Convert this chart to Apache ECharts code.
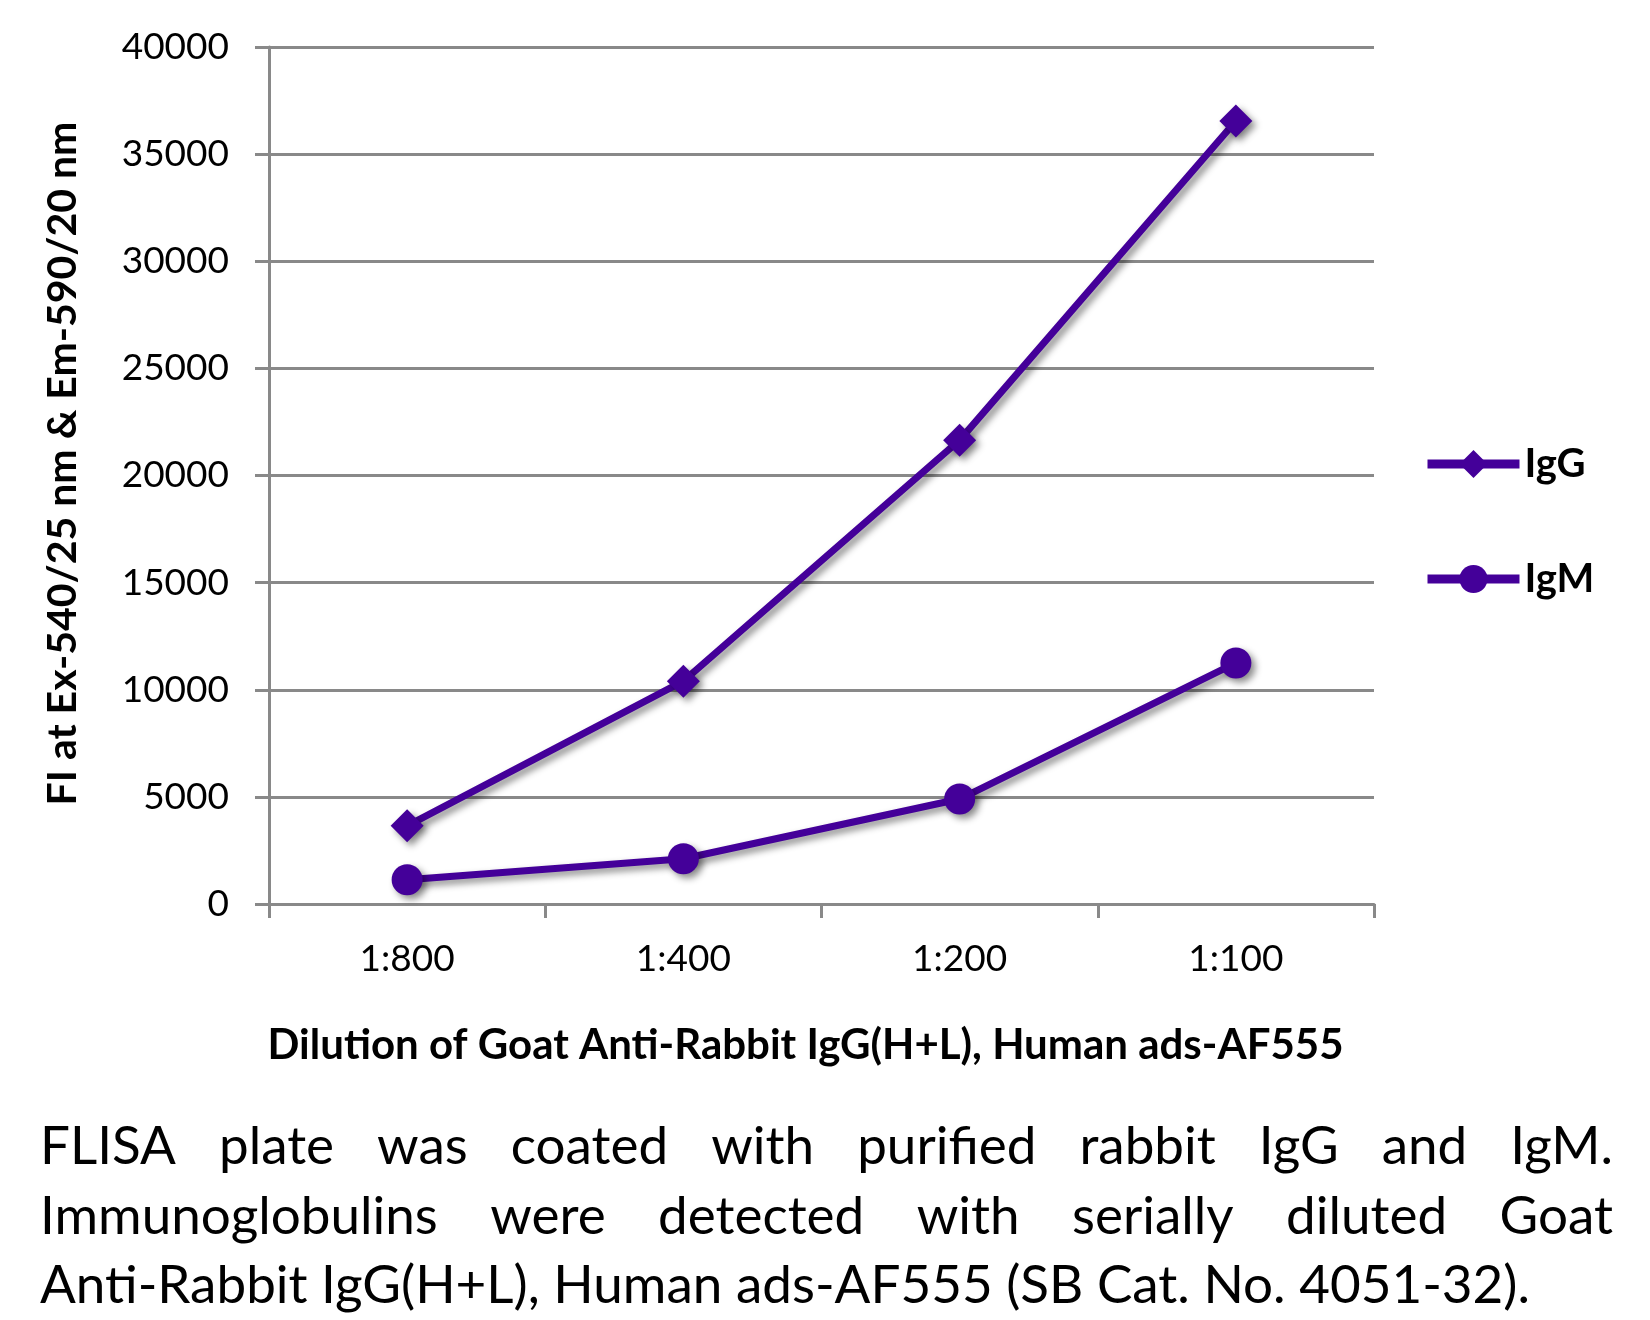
<!DOCTYPE html>
<html><head><meta charset="utf-8">
<script src="https://cdn.jsdelivr.net/npm/echarts@6/dist/echarts.min.js"></script>
<style>html,body{margin:0;padding:0;background:#fff}#c{width:1650px;height:1320px}</style>
</head><body><div id="c"></div>
<script>
const categories = ['1:800', '1:400', '1:200', '1:100'];
const igG = [3650, 10400, 21650, 36550];
const igM = [1130, 2110, 4900, 11250];
const yMin = 0, yMax = 40000, yInterval = 5000;
const seriesNames = ['IgG', 'IgM'];
const xTitle = 'Dilution of Goat Anti-Rabbit IgG(H+L), Human ads-AF555';
const yTitle = 'FI at Ex-540/25 nm & Em-590/20 nm';
const captionLines = [
  'FLISA plate was coated with purified rabbit IgG and IgM.',
  'Immunoglobulins were detected with serially diluted Goat',
  'Anti-Rabbit IgG(H+L), Human ads-AF555 (SB Cat. No. 4051-32).'
];

const FONT = 'Lato, "Open Sans", sans-serif';
const PURPLE = '#440099';
const GRAY = '#898989';
const shadow = { shadowColor: 'rgba(0,0,0,0.45)', shadowBlur: 7, shadowOffsetX: 4, shadowOffsetY: 4 };

const capFontSize = 53;
const capLeft = 40, capRight = 1613;
const capY = [1147, 1217, 1286];
const ctx = document.createElement('canvas').getContext('2d');
ctx.font = capFontSize + 'px ' + FONT;
const captionEls = [];
captionLines.forEach((line, i) => {
  const justify = i < captionLines.length - 1;
  if (!justify) {
    captionEls.push({ type: 'text', x: capLeft, y: capY[i],
      style: { text: line, font: capFontSize + 'px ' + FONT, fill: '#000', verticalAlign: 'middle', align: 'left' } });
    return;
  }
  const words = line.split(' ');
  const widths = words.map(w => ctx.measureText(w).width);
  const total = widths.reduce((a, b) => a + b, 0);
  const gap = (capRight - capLeft - total) / (words.length - 1);
  let x = capLeft;
  words.forEach((w, k) => {
    captionEls.push({ type: 'text', x: x, y: capY[i],
      style: { text: w, font: capFontSize + 'px ' + FONT, fill: '#000', verticalAlign: 'middle', align: 'left' } });
    x += widths[k] + gap;
  });
});

const chart = echarts.init(document.getElementById('c'));
chart.setOption({
  backgroundColor: '#fff',
  animation: false,
  grid: { left: 269, top: 47, right: 276, bottom: 416 },
  legend: {
    orient: 'vertical', left: 1418, top: 439, itemWidth: 92, itemHeight: 35, itemGap: 75,
    data: seriesNames,
    textStyle: { fontFamily: FONT, fontWeight: 'bold', fontSize: 40, color: '#000' },
    lineStyle: { width: 9, shadowBlur: 0, shadowOffsetX: 0, shadowOffsetY: 0, shadowColor: 'transparent' },
    itemStyle: { shadowBlur: 0, shadowOffsetX: 0, shadowOffsetY: 0, shadowColor: 'transparent' }
  },
  xAxis: {
    type: 'category', data: categories, boundaryGap: true,
    name: xTitle, nameLocation: 'middle', nameGap: 120,
    nameTextStyle: { fontFamily: FONT, fontWeight: 'bold', fontSize: 42, color: '#000', padding: [0, 32, 0, 0] },
    axisLine: { lineStyle: { color: GRAY, width: 3 } },
    axisTick: { show: true, length: 14, alignWithLabel: false, lineStyle: { color: GRAY, width: 3 } },
    axisLabel: { fontFamily: FONT, fontSize: 37, color: '#000', margin: 37 },
    splitLine: { show: false }
  },
  yAxis: {
    type: 'value', min: yMin, max: yMax, interval: yInterval,
    name: yTitle, nameLocation: 'middle', nameGap: 186, nameRotate: 90,
    nameTextStyle: { fontFamily: FONT, fontWeight: 'bold', fontSize: 41, color: '#000', padding: [0, 0, 0, 24] },
    axisLine: { show: true, lineStyle: { color: GRAY, width: 3 } },
    axisTick: { show: true, length: 14, lineStyle: { color: GRAY, width: 3 } },
    axisLabel: { fontFamily: FONT, fontSize: 37, color: '#000', margin: 40, formatter: v => String(v) },
    splitLine: { show: true, lineStyle: { color: GRAY, width: 3 } }
  },
  series: [
    { name: seriesNames[0], type: 'line', data: igG, symbol: 'diamond', symbolSize: 33,
      lineStyle: Object.assign({ color: PURPLE, width: 7 }, shadow),
      itemStyle: Object.assign({ color: PURPLE }, shadow) },
    { name: seriesNames[1], type: 'line', data: igM, symbol: 'circle', symbolSize: 31,
      lineStyle: Object.assign({ color: PURPLE, width: 7 }, shadow),
      itemStyle: Object.assign({ color: PURPLE }, shadow) }
  ],
  graphic: captionEls
});
</script></body></html>
